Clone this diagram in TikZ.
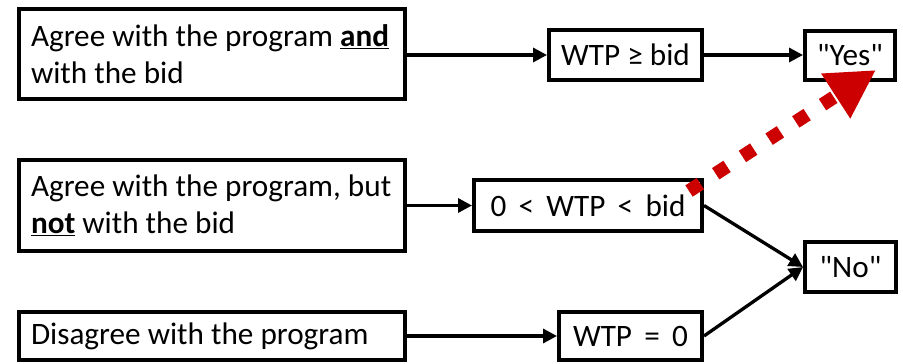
\documentclass[tikz,border=0pt]{standalone}
\usepackage{fontspec}
\setmainfont{Carlito}[Ligatures=TeXOff]
\usetikzlibrary{arrows.meta}
\definecolor{arrred}{RGB}{204,0,0}
\begin{document}
\begin{tikzpicture}[x=1pt,y=-1pt,
  box/.style={draw=black, line width=4pt, inner sep=0pt, fill=white,
    font=\fontsize{31.2}{37}\selectfont},
  leftbox/.style={box, minimum width=386pt, text width=362pt, align=flush left},
  conn/.style={draw=black, line width=3.3pt, -{Triangle[length=14pt,width=14pt]}},
  redarrow/.style={draw=arrred, line width=13.5pt, dash pattern=on 13.5pt off 18.3pt,
    -{Triangle[length=48pt,width=50pt]}}]
\useasboundingbox (0,0) rectangle (903,364);

\node[leftbox, minimum height=90pt] (a1) at (212,54)
  {Agree with the program \underline{\textbf{and}}\\with the bid};
\node[leftbox, minimum height=91pt] (a2) at (212,205.5)
  {Agree with the program, but\\\underline{\textbf{not}} with the bid};
\node[leftbox, minimum height=48pt] (a3) at (212,336)
  {Disagree with the program};

\node[box, minimum width=153pt, minimum height=50pt] (g1) at (625.5,55) {WTP ≥ bid};
\node[box, minimum width=228pt, minimum height=51pt] (g2) at (588,205.5) {0 \,<\, WTP \,<\, bid};
\node[box, minimum width=143pt, minimum height=48pt] (g3) at (630.5,336) {WTP \,=\, 0};

\node[box, minimum width=90pt, minimum height=49pt] (yes) at (850,55.5) {"Yes"};
\node[box, minimum width=91pt, minimum height=50pt] (no) at (850.5,267) {"No"};

\draw[conn] (a1.east |- g1.west) -- (g1.west);
\draw[conn] (g1.east) -- (yes.west |- g1.east);
\draw[conn] (a2.east) -- (g2.west);
\draw[conn] (a3.east) -- (g3.west);
\draw[conn] (g2.east) -- (no.west);
\draw[conn] (g3.east) -- (no.west);

\coordinate (rs) at (689,191);
\coordinate (re) at (876,70);
\draw[redarrow] (rs) -- (re);
\end{tikzpicture}
\end{document}
